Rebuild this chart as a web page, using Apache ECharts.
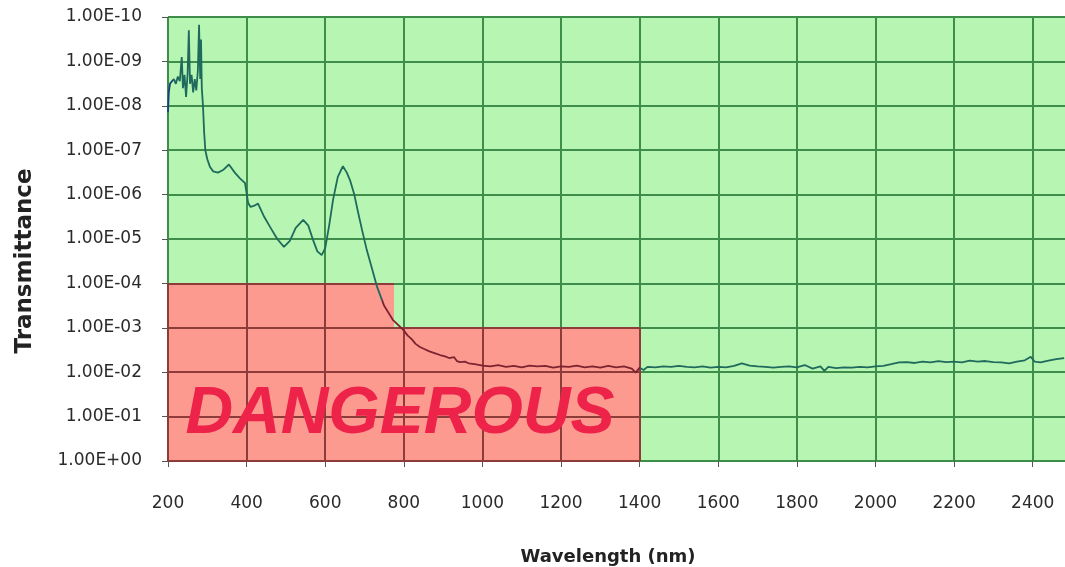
<!DOCTYPE html>
<html>
<head>
<meta charset="utf-8">
<script src="https://cdn.jsdelivr.net/npm/echarts@6/dist/echarts.min.js"></script>
<style>html,body{margin:0;padding:0;background:#fff;}#c{width:1065px;height:567px;}</style>
</head>
<body>
<div id="c"></div>
<script>
// [wavelength nm, transmittance]
const spectrum = [
[200,1.4e-8],[202,5e-9],[205,3.2e-9],[210,2.8e-9],[215,2.5e-9],[220,3.2e-9],[225,2.2e-9],[230,2.8e-9],
[235,8e-10],[238,4e-9],[242,2e-9],[246,6.3e-9],[250,1.8e-9],[253,2e-10],[256,3.2e-9],[260,2e-9],
[264,5e-9],[268,2.5e-9],[272,4.5e-9],[276,1.6e-9],[279,1.5e-10],[282,2.5e-9],[284,3.2e-10],[286,4e-9],
[289,1e-8],[292,4e-8],[295,1e-7],[300,1.6e-7],[307,2.4e-7],[315,3e-7],[327,3.2e-7],[340,2.8e-7],
[355,2.1e-7],[370,3.2e-7],[383,4.3e-7],[396,5.5e-7],[404,1.55e-6],[410,1.9e-6],[418,1.8e-6],[429,1.6e-6],
[445,3.2e-6],[460,5.4e-6],[478,1e-5],[495,1.5e-5],[510,1.1e-5],[525,5.6e-6],[544,3.7e-6],[557,5e-6],
[569,1.05e-5],[580,1.9e-5],[591,2.3e-5],[600,1.6e-5],[610,5e-6],[620,1.3e-6],[632,4e-7],[645,2.3e-7],
[655,3.2e-7],[663,4.7e-7],[674,1e-6],[684,2.6e-6],[695,7e-6],[706,1.8e-5],[720,5e-5],[732,1.2e-4],
[750,3.2e-4],[772,6.6e-4],[798,1.1e-3],[810,1.5e-3],[820,1.8e-3],[830,2.3e-3],[841,2.7e-3],[852,3.0e-3],
[865,3.4e-3],[878,3.7e-3],[892,4.1e-3],[905,4.4e-3],[915,4.8e-3],[928,4.6e-3],[935,5.6e-3],[943,5.9e-3],
[955,5.8e-3],[965,6.3e-3],[980,6.6e-3],[994,6.9e-3],
[1000,7.1e-3],[1020,7.4e-3],[1040,6.9e-3],[1060,7.6e-3],[1080,7.2e-3],[1100,7.8e-3],[1120,7.1e-3],[1140,7.4e-3],
[1160,7.2e-3],[1180,7.9e-3],[1200,7.4e-3],[1220,7.6e-3],[1240,7.1e-3],[1260,7.8e-3],[1280,7.4e-3],[1300,7.9e-3],
[1320,7.2e-3],[1340,7.8e-3],[1360,7.4e-3],[1380,8.3e-3],[1390,1.02e-2],[1400,7.9e-3],[1410,8.9e-3],[1420,7.6e-3],
[1440,7.8e-3],[1460,7.4e-3],[1480,7.6e-3],[1500,7.2e-3],[1520,7.6e-3],[1540,7.8e-3],[1560,7.4e-3],[1580,7.9e-3],
[1600,7.6e-3],[1620,7.8e-3],[1640,7.2e-3],[1660,6.3e-3],[1680,7.1e-3],[1700,7.4e-3],[1720,7.6e-3],[1740,7.9e-3],
[1760,7.6e-3],[1780,7.4e-3],[1800,7.8e-3],[1820,6.9e-3],[1840,8.3e-3],[1860,7.4e-3],[1870,9.3e-3],[1880,7.6e-3],
[1900,8.1e-3],[1920,7.8e-3],[1940,7.9e-3],[1960,7.6e-3],[1980,7.8e-3],[2000,7.4e-3],[2020,7.2e-3],[2040,6.6e-3],
[2060,6.0e-3],[2080,5.9e-3],[2100,6.2e-3],[2120,5.75e-3],[2140,6.0e-3],[2160,5.6e-3],[2180,5.9e-3],[2200,5.75e-3],
[2220,6.0e-3],[2240,5.5e-3],[2260,5.75e-3],[2280,5.6e-3],[2300,5.9e-3],[2320,6.0e-3],[2340,6.3e-3],[2360,5.75e-3],
[2380,5.4e-3],[2395,4.5e-3],[2405,5.75e-3],[2420,6.0e-3],[2440,5.5e-3],[2460,5.1e-3],[2480,4.8e-3]
];

const xTicks = [200,400,600,800,1000,1200,1400,1600,1800,2000,2200,2400];
const yDecades = [1e-10,1e-9,1e-8,1e-7,1e-6,1e-5,1e-4,1e-3,1e-2,1e-1,1];
// danger zones: [from nm, to nm, top transmittance]
const dangerZones = [[200,775,1e-4],[775,1400,1e-3]];
const dangerLabel = 'DANGEROUS';
const dangerLabelAt = [790, 0.09];

const GREEN = '#b7f5b2', RED = '#fd9a8f', GRID_G = '#3f8d4a', GRID_R = '#8e3c3a';

function fmtY(v){
  const e = Math.round(Math.log10(v));
  const a = Math.abs(e);
  return '1.00E' + (e < 0 ? '-' : '+') + (a < 10 ? '0' + a : '' + a);
}

// red gridlines inside the danger zones
const redLines = [];
xTicks.forEach(x => {
  const z = dangerZones.find(d => x >= d[0] && x <= d[1]);
  if (z) redLines.push([{coord:[x, z[2]]}, {coord:[x, 1]}]);
});
yDecades.forEach(y => {
  let to = null;
  dangerZones.forEach(d => { if (y >= d[2]) to = d[1]; });
  if (to !== null) redLines.push([{coord:[dangerZones[0][0], y]}, {coord:[to, y]}]);
});

const chart = echarts.init(document.getElementById('c'), null, {renderer:'canvas'});
chart.setOption({
  backgroundColor: '#ffffff',
  animation: false,
  grid: {left:168, top:17, width:904, height:444, show:true, backgroundColor:GREEN, borderWidth:0,
    containLabel:false, outerBoundsMode:'none'},
  xAxis: {
    type:'value', min:200, max:2500, interval:200,
    name:'Wavelength (nm)', nameLocation:'middle', nameGap:87,
    nameTextStyle:{fontFamily:'DejaVu Sans', fontWeight:'bold', fontSize:18, color:'#222', padding:[0,24,0,0]},
    axisLine:{show:false},
    axisTick:{show:true, length:6, lineStyle:{color:'#555', width:1}},
    axisLabel:{fontFamily:'DejaVu Sans', fontSize:17, color:'#2a2a2a', margin:34, showMaxLabel:false,
      formatter: v => String(v)},
    splitLine:{show:true, lineStyle:{color:GRID_G, width:2}}
  },
  yAxis: {
    type:'log', logBase:10, min:1e-10, max:1, interval:1, splitNumber:10, inverse:true,
    name:'Transmittance', nameLocation:'middle', nameGap:131, nameRotate:90,
    nameTextStyle:{fontFamily:'DejaVu Sans', fontWeight:'bold', fontSize:23, color:'#222', padding:[0,44,0,0]},
    axisLine:{show:false},
    axisTick:{show:true, length:6, lineStyle:{color:'#555', width:1}},
    axisLabel:{fontFamily:'DejaVu Sans', fontSize:17, color:'#2a2a2a', margin:26, formatter:fmtY},
    splitLine:{show:true, lineStyle:{color:GRID_G, width:2}}
  },
  visualMap: {
    show:false, type:'piecewise', dimension:0, seriesIndex:2,
    pieces:[
      {lt:212, color:'#163f7c'},
      {gte:212, lt:745, color:'#1e6a5c'},
      {gte:745, lte:1400, color:'#7c2231'},
      {gt:1400, color:'#1e6a5c'}
    ]
  },
  series: [
    {
      type:'line', data:[], z:3, silent:true,
      markArea:{silent:true, itemStyle:{color:RED, opacity:1},
        data: dangerZones.map(d => [{coord:[d[0], d[2]]}, {coord:[d[1], 1]}])},
      markPoint:{silent:true, symbol:'circle', symbolSize:1, itemStyle:{color:'rgba(0,0,0,0)'},
        label:{show:true, position:'inside', formatter:dangerLabel, fontFamily:'Liberation Sans', fontStyle:'italic',
          fontWeight:'bold', fontSize:66, color:'#ee2349'},
        data:[{coord:dangerLabelAt}]}
    },
    {
      type:'line', data:[], z:4, silent:true,
      markLine:{silent:true, symbol:['none','none'], label:{show:false},
        lineStyle:{color:GRID_R, width:2, type:'solid'}, data:redLines}
    },
    {
      type:'line', data:spectrum, z:5, showSymbol:false, smooth:false,
      lineStyle:{width:1.8}
    }
  ]
});
</script>
</body>
</html>
